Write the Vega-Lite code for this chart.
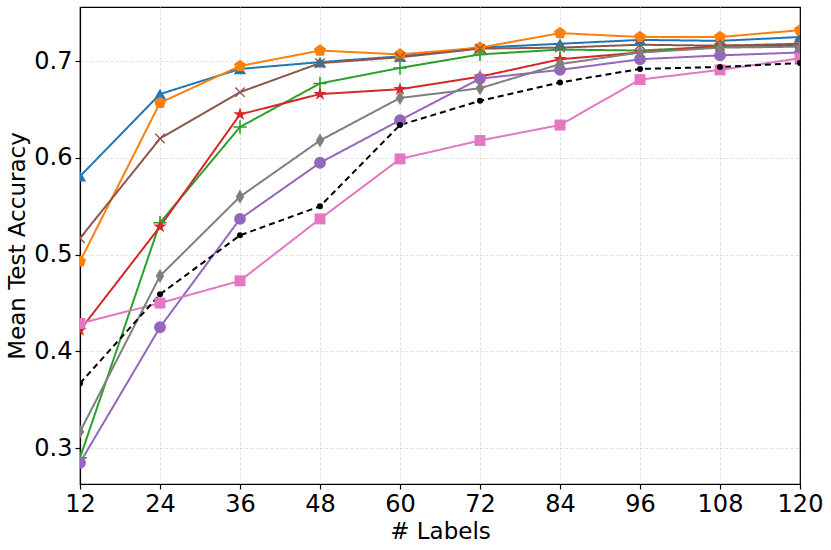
{
  "$schema": "https://vega.github.io/schema/vega-lite/v6.json",
  "width": 720,
  "height": 477,
  "autosize": "none",
  "padding": {"left": 80, "top": 7, "right": 31, "bottom": 66},
  "background": "white",
  "config": {
    "font": "DejaVu Sans",
    "view": {"stroke": "black", "strokeWidth": 1.2}
  },
  "data": {
    "values": [
      {"s": "C0", "n": 12, "a": 0.581}, {"s": "C0", "n": 24, "a": 0.666}, {"s": "C0", "n": 36, "a": 0.692}, {"s": "C0", "n": 48, "a": 0.699}, {"s": "C0", "n": 60, "a": 0.705},
      {"s": "C0", "n": 72, "a": 0.714}, {"s": "C0", "n": 84, "a": 0.718}, {"s": "C0", "n": 96, "a": 0.722}, {"s": "C0", "n": 108, "a": 0.721}, {"s": "C0", "n": 120, "a": 0.725},
      {"s": "C1", "n": 12, "a": 0.493}, {"s": "C1", "n": 24, "a": 0.657}, {"s": "C1", "n": 36, "a": 0.695}, {"s": "C1", "n": 48, "a": 0.711}, {"s": "C1", "n": 60, "a": 0.707},
      {"s": "C1", "n": 72, "a": 0.714}, {"s": "C1", "n": 84, "a": 0.729}, {"s": "C1", "n": 96, "a": 0.725}, {"s": "C1", "n": 108, "a": 0.725}, {"s": "C1", "n": 120, "a": 0.732},
      {"s": "C2", "n": 12, "a": 0.29}, {"s": "C2", "n": 24, "a": 0.533}, {"s": "C2", "n": 36, "a": 0.632}, {"s": "C2", "n": 48, "a": 0.677}, {"s": "C2", "n": 60, "a": 0.693},
      {"s": "C2", "n": 72, "a": 0.707}, {"s": "C2", "n": 84, "a": 0.712}, {"s": "C2", "n": 96, "a": 0.711}, {"s": "C2", "n": 108, "a": 0.715}, {"s": "C2", "n": 120, "a": 0.717},
      {"s": "C3", "n": 12, "a": 0.422}, {"s": "C3", "n": 24, "a": 0.529}, {"s": "C3", "n": 36, "a": 0.645}, {"s": "C3", "n": 48, "a": 0.666}, {"s": "C3", "n": 60, "a": 0.671},
      {"s": "C3", "n": 72, "a": 0.684}, {"s": "C3", "n": 84, "a": 0.702}, {"s": "C3", "n": 96, "a": 0.709}, {"s": "C3", "n": 108, "a": 0.716}, {"s": "C3", "n": 120, "a": 0.717},
      {"s": "C4", "n": 12, "a": 0.285}, {"s": "C4", "n": 24, "a": 0.425}, {"s": "C4", "n": 36, "a": 0.537}, {"s": "C4", "n": 48, "a": 0.595}, {"s": "C4", "n": 60, "a": 0.639},
      {"s": "C4", "n": 72, "a": 0.682}, {"s": "C4", "n": 84, "a": 0.691}, {"s": "C4", "n": 96, "a": 0.702}, {"s": "C4", "n": 108, "a": 0.706}, {"s": "C4", "n": 120, "a": 0.709},
      {"s": "C5", "n": 12, "a": 0.517}, {"s": "C5", "n": 24, "a": 0.62}, {"s": "C5", "n": 36, "a": 0.668}, {"s": "C5", "n": 48, "a": 0.698}, {"s": "C5", "n": 60, "a": 0.704},
      {"s": "C5", "n": 72, "a": 0.713}, {"s": "C5", "n": 84, "a": 0.714}, {"s": "C5", "n": 96, "a": 0.717}, {"s": "C5", "n": 108, "a": 0.716}, {"s": "C5", "n": 120, "a": 0.718},
      {"s": "C6", "n": 12, "a": 0.429}, {"s": "C6", "n": 24, "a": 0.45}, {"s": "C6", "n": 36, "a": 0.473}, {"s": "C6", "n": 48, "a": 0.537}, {"s": "C6", "n": 60, "a": 0.599},
      {"s": "C6", "n": 72, "a": 0.618}, {"s": "C6", "n": 84, "a": 0.634}, {"s": "C6", "n": 96, "a": 0.681}, {"s": "C6", "n": 108, "a": 0.691}, {"s": "C6", "n": 120, "a": 0.703},
      {"s": "C7", "n": 12, "a": 0.317}, {"s": "C7", "n": 24, "a": 0.478}, {"s": "C7", "n": 36, "a": 0.56}, {"s": "C7", "n": 48, "a": 0.618}, {"s": "C7", "n": 60, "a": 0.662},
      {"s": "C7", "n": 72, "a": 0.672}, {"s": "C7", "n": 84, "a": 0.697}, {"s": "C7", "n": 96, "a": 0.709}, {"s": "C7", "n": 108, "a": 0.714}, {"s": "C7", "n": 120, "a": 0.715},
      {"s": "K", "n": 12, "a": 0.367}, {"s": "K", "n": 24, "a": 0.459}, {"s": "K", "n": 36, "a": 0.52}, {"s": "K", "n": 48, "a": 0.55}, {"s": "K", "n": 60, "a": 0.634},
      {"s": "K", "n": 72, "a": 0.659}, {"s": "K", "n": 84, "a": 0.678}, {"s": "K", "n": 96, "a": 0.692}, {"s": "K", "n": 108, "a": 0.694}, {"s": "K", "n": 120, "a": 0.698}
    ]
  },
  "encoding": {
    "x": {
      "field": "n",
      "type": "quantitative",
      "title": "# Labels",
      "scale": {"domain": [12, 120], "nice": false, "zero": false},
      "axis": {
        "values": [12, 24, 36, 48, 60, 72, 84, 96, 108, 120],
        "labelFlush": false,
        "labelOverlap": false,
        "labelFontSize": 24,
        "titleFontSize": 23,
        "titleFontWeight": "normal",
        "labelColor": "black",
        "titleColor": "black",
        "domainColor": "black",
        "domainWidth": 1.2,
        "tickColor": "black",
        "tickSize": 5,
        "tickWidth": 1.2,
        "labelPadding": 3,
        "titlePadding": 4,
        "gridColor": {"condition": {"test": "datum.value == 120", "value": "black"}, "value": "#d9d9d9"},
        "gridDash": [3, 2],
        "gridWidth": 0.8
      }
    },
    "y": {
      "field": "a",
      "type": "quantitative",
      "title": "Mean Test Accuracy",
      "scale": {"domain": [0.263, 0.756], "nice": false, "zero": false},
      "axis": {
        "values": [0.3, 0.4, 0.5, 0.6, 0.7],
        "format": ".1f",
        "labelFlush": false,
        "labelFontSize": 24,
        "titleFontSize": 23,
        "titleFontWeight": "normal",
        "labelColor": "black",
        "titleColor": "black",
        "domainColor": "black",
        "domainWidth": 1.2,
        "tickColor": "black",
        "tickSize": 5,
        "tickWidth": 1.2,
        "labelPadding": 3,
        "titlePadding": 4,
        "gridColor": "#d9d9d9",
        "gridDash": [3, 2],
        "gridWidth": 0.8
      }
    },
    "color": {
      "field": "s",
      "type": "nominal",
      "legend": null,
      "scale": {
        "domain": ["C0", "C1", "C2", "C3", "C4", "C5", "C6", "C7", "K"],
        "range": ["#1f77b4", "#ff7f0e", "#2ca02c", "#d62728", "#9467bd", "#8c564b", "#e377c2", "#7f7f7f", "#000000"]
      }
    }
  },
  "layer": [
    {
      "mark": {"type": "line", "strokeWidth": 2, "clip": true},
      "encoding": {
        "strokeDash": {
          "field": "s",
          "type": "nominal",
          "legend": null,
          "scale": {
            "domain": ["C0", "C1", "C2", "C3", "C4", "C5", "C6", "C7", "K"],
            "range": [[1, 0], [1, 0], [1, 0], [1, 0], [1, 0], [1, 0], [1, 0], [1, 0], [6, 4]]
          }
        }
      }
    },
    {
      "mark": {"type": "point", "filled": true, "opacity": 1, "clip": true},
      "encoding": {
        "shape": {
          "field": "s",
          "type": "nominal",
          "legend": null,
          "scale": {
            "domain": ["C0", "C1", "C2", "C3", "C4", "C5", "C6", "C7", "K"],
            "range": [
              "triangle-up",
              "M0,-1L0.951,-0.309L0.588,0.809L-0.588,0.809L-0.951,-0.309Z",
              "M-1,-0.12H1V0.12H-1Z M-0.12,-1H0.12V1H-0.12Z",
              "M0,-1L0.225,-0.309L0.951,-0.309L0.363,0.118L0.588,0.809L0,0.382L-0.588,0.809L-0.363,0.118L-0.951,-0.309L-0.225,-0.309Z",
              "circle",
              "M-0.8,-0.65L0.65,0.8L0.8,0.65L-0.65,-0.8Z M-0.8,0.65L0.65,-0.8L0.8,-0.65L-0.65,0.8Z",
              "square",
              "M0,-1L0.6,0L0,1L-0.6,0Z",
              "circle"
            ]
          }
        },
        "size": {
          "field": "s",
          "type": "nominal",
          "legend": null,
          "scale": {
            "type": "ordinal",
            "domain": ["C0", "C1", "C2", "C3", "C4", "C5", "C6", "C7", "K"],
            "range": [150, 160, 180, 200, 140, 170, 120, 200, 36]
          }
        }
      }
    }
  ]
}
